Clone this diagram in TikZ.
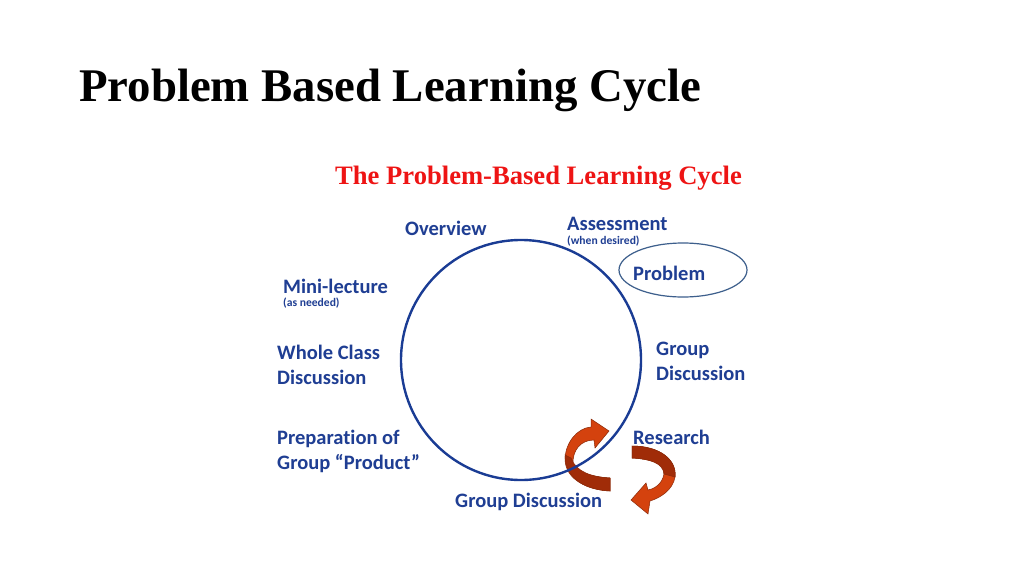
\documentclass[tikz,border=0pt]{standalone}
\usepackage{fontspec}
\setmainfont{Liberation Serif}
\newfontfamily\calibri[Ligatures=NoCommon]{Carlito}
\definecolor{pblblue}{HTML}{1F3E93}
\definecolor{ringblue}{HTML}{1A3C94}
\definecolor{probblue}{HTML}{3D5F8C}
\definecolor{pblred}{HTML}{EE1414}
\definecolor{arrowlight}{HTML}{D4420E}
\definecolor{arrowdark}{HTML}{A02C08}
\definecolor{arrowedge}{HTML}{8A2A0A}
\tikzset{
  stage/.style={anchor=base west, inner sep=0pt, text=pblblue,
    font=\calibri\bfseries\fontsize{20.5}{25}\selectfont},
  stagenote/.style={anchor=base west, inner sep=0pt, text=pblblue,
    font=\calibri\bfseries\fontsize{11.6}{13}\selectfont}
}

\begin{document}
\begin{tikzpicture}[x=1pt, y=-1pt]
		%%%%% START %%%%%
		\useasboundingbox[fill=white] (0,0) rectangle (1024,575);
		
		\node[anchor=base west, inner sep=0pt, font=\bfseries\fontsize{46.8}{50}\selectfont] (title) at (79, 102) {Problem Based Learning Cycle};
		\node[anchor=base west, inner sep=0pt, text=pblred, font=\bfseries\fontsize{26.6}{30}\selectfont] (subtitle) at (335, 184) {The Problem-Based Learning Cycle};
		
		% arrows
		\draw[fill=arrowlight, draw=arrowedge, line width=0.5pt] (609, 431) -- (595, 448) -- (594, 440)
			.. controls (581, 440) and (572, 450) .. (573, 465)
			.. controls (580, 474) and (595, 477) .. (610, 478) -- (610, 491)
			.. controls (588, 490) and (566, 480) .. (565, 460)
			.. controls (565, 443) and (577, 428) .. (591, 427) -- (591, 419) -- cycle;
		\draw[fill=arrowdark, draw=arrowedge, line width=0.5pt] (565, 455)
			.. controls (565, 480) and (588, 490) .. (610, 491) -- (610, 478)
			.. controls (592, 477) and (576, 472) .. (571, 458) -- cycle;
		
		\draw[fill=arrowlight, draw=arrowedge, line width=0.5pt] (631, 500) -- (646, 483) -- (648, 490)
			.. controls (658, 488) and (664, 480) .. (664, 472)
			.. controls (663, 463) and (650, 459) .. (632, 458) -- (632, 446)
			.. controls (660, 446) and (677, 460) .. (675, 477)
			.. controls (673, 490) and (660, 498) .. (650, 501) -- (648, 514) -- cycle;
		\draw[fill=arrowdark, draw=arrowedge, line width=0.5pt] (632, 446)
			.. controls (660, 446) and (677, 460) .. (675, 477) -- (664, 474)
			.. controls (663, 463) and (650, 459) .. (632, 458) -- cycle;
		
		% cycle
		\draw[ringblue, line width=2.4pt] (521, 360) circle (120pt);
		\draw[probblue, line width=1.2pt] (683, 270) ellipse [x radius=64pt, y radius=27pt];
		
		\node[stage] (overview) at (405, 235) {Overview};
		\node[stage] (assess) at (567, 230) {Assessment};
		\node[stagenote] (assessnote) at (567, 244) {(when desired)};
		\node[stage] (problem) at (633, 280) {Problem};
		\node[stage] (minilec) at (283, 293) {Mini-lecture};
		\node[stagenote] (minilecnote) at (283, 306) {(as needed)};
		\node[stage] (whole) at (277, 359) {Whole Class};
		\node[stage] (wholedisc) at (277, 384) {Discussion};
		\node[stage] (group) at (656, 355) {Group};
		\node[stage] (groupdisc) at (656, 380) {Discussion};
		\node[stage] (prep) at (277, 444) {Preparation of};
		\node[stage] (prepprod) at (277, 469) {Group “Product”};
		\node[stage] (research) at (633, 444) {Research};
		\node[stage] (bottomdisc) at (455, 507) {Group Discussion};
		
		%%%%% END %%%%%
	\end{tikzpicture}
\end{document}
